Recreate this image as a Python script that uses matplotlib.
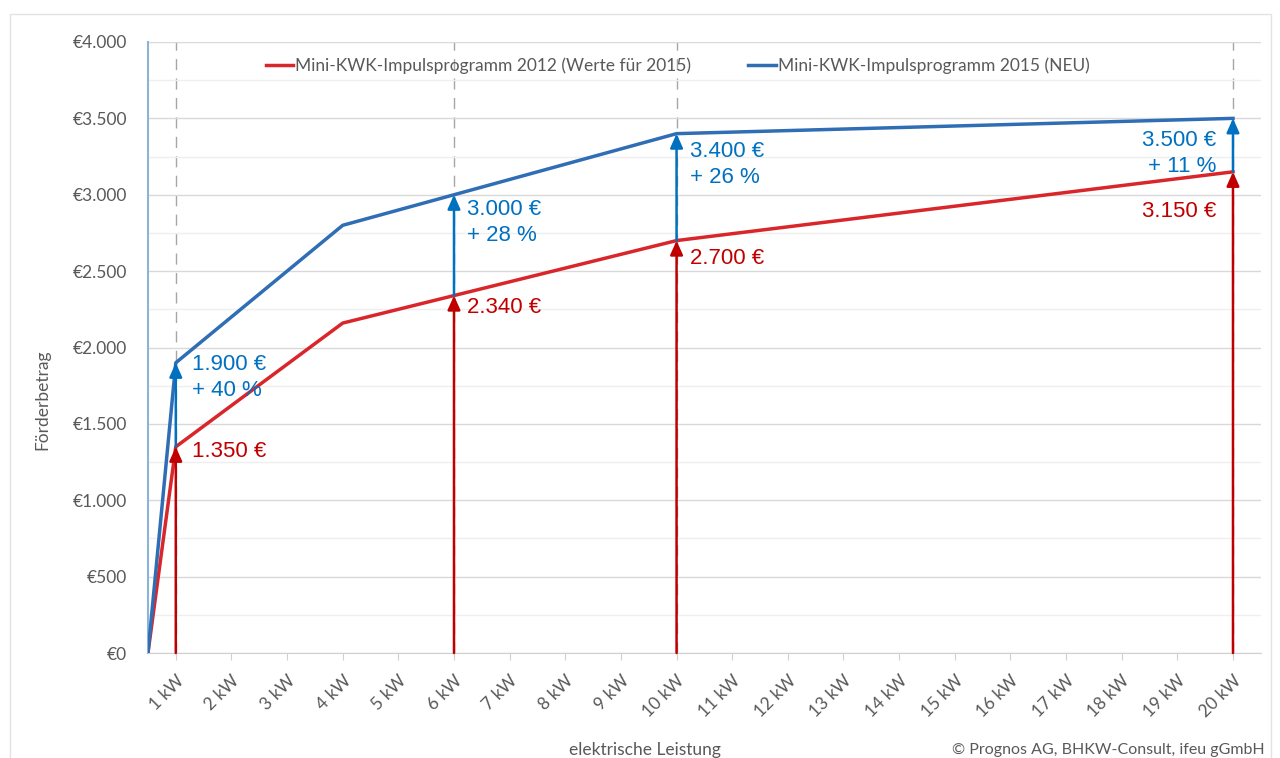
import matplotlib.pyplot as plt
from matplotlib.patches import Rectangle

plt.rcParams['font.family'] = ['Lato', 'DejaVu Sans']

# data
kw_points = [0.5, 1, 4, 6, 10, 20]
old_values = [0, 1350, 2160, 2340, 2700, 3150]
new_values = [0, 1900, 2800, 3000, 3400, 3500]

marked_kw = [1, 6, 10, 20]
marked_old = [1350, 2340, 2700, 3150]
marked_new = [1900, 3000, 3400, 3500]
marked_pct = ["+ 40 %", "+ 28 %", "+ 26 %", "+ 11 %"]

tick_kw = list(range(1, 21))
tick_labels = [f"{k} kW" for k in tick_kw]
y_ticks = list(range(0, 4001, 500))

# label placement (pixels from the arrow tip: dx, blue baseline dy, red baseline dy)
label_dx = [16, 13, 13, -17]
blue_dy = [-7, -20, -23, -28]
red_dy = [-10, -17, -23, -45]

RED_LINE = '#D9262B'
BLUE_LINE = '#2F6EB5'
RED_TXT = '#C00000'
BLUE_TXT = '#0070C0'
GRAY = '#595959'
FS = 12.5


def euro(v):
    return f"{v:,}".replace(",", ".") + " €"


fig = plt.figure(figsize=(12.8, 7.58), dpi=100)
ax = fig.add_axes([0.1156, 0.1385, 0.8694, 0.8061])

# outer frame
fig.patches.append(Rectangle((0.008, -0.01), 0.985, 0.992, transform=fig.transFigure,
                             fill=False, edgecolor='#E3E3E3', linewidth=1.0))

ax.set_xlim(0.5, 20.5)
ax.set_ylim(0, 4000)

# grid
ax.set_yticks(y_ticks)
ax.set_yticks(range(250, 4000, 500), minor=True)
ax.grid(axis='y', which='major', color='#D9D9D9', linewidth=1.0, zorder=0)
ax.grid(axis='y', which='minor', color='#EFEFEF', linewidth=1.0, zorder=0)
ax.tick_params(axis='y', which='both', length=0, labelsize=FS, labelcolor=GRAY, pad=15)
ax.set_yticklabels([f"€{v:,}".replace(",", ".") for v in y_ticks])

ax.set_xticks(tick_kw)
ax.set_xticklabels(tick_labels, rotation=45, ha='right', rotation_mode='anchor')
ax.tick_params(axis='x', length=5, color='#D0D0D0', labelsize=FS, labelcolor=GRAY, pad=9)

for s in ['top', 'right']:
    ax.spines[s].set_visible(False)
ax.spines['bottom'].set_color('#D0D0D0')
ax.spines['left'].set_color('#8DB3DA')
ax.spines['left'].set_linewidth(1.5)

# dashed guide lines
for k in marked_kw:
    ax.axvline(k, color='#A6A6A6', linestyle=(0, (8, 6)), linewidth=1.0, zorder=1)

# lines
ax.plot(kw_points, old_values, color=RED_LINE, linewidth=2.5, zorder=3,
        label='Mini-KWK-Impulsprogramm 2012 (Werte für 2015)')
ax.plot(kw_points, new_values, color=BLUE_LINE, linewidth=2.5, zorder=3,
        label='Mini-KWK-Impulsprogramm 2015 (NEU)')

# arrows and labels
arrow = '-|>,head_width=0.38,head_length=0.85'
for i, (k, o, n, p) in enumerate(zip(marked_kw, marked_old, marked_new, marked_pct)):
    ax.annotate('', xy=(k, o), xytext=(k, 0), zorder=4,
                arrowprops=dict(arrowstyle=arrow, color=RED_TXT, lw=1.8, shrinkA=0, shrinkB=0))
    ax.annotate('', xy=(k, n), xytext=(k, o), zorder=4,
                arrowprops=dict(arrowstyle=arrow, color=BLUE_TXT, lw=1.8, shrinkA=0, shrinkB=0))
    ha = 'right' if label_dx[i] < 0 else 'left'
    txt = dict(textcoords='offset pixels', ha=ha, va='baseline', fontsize=16,
               family=['Liberation Sans'], zorder=5)
    ax.annotate(euro(n), (k, n), xytext=(label_dx[i], blue_dy[i]), color=BLUE_TXT, **txt)
    ax.annotate(p, (k, n), xytext=(label_dx[i], blue_dy[i] - 26), color=BLUE_TXT, **txt)
    ax.annotate(euro(o), (k, o), xytext=(label_dx[i], red_dy[i]), color=RED_TXT, **txt)

ax.legend(loc='upper center', bbox_to_anchor=(0.476, 1.0), ncol=2, frameon=False,
          fontsize=FS, labelcolor=GRAY, handlelength=1.6, handletextpad=0.1,
          columnspacing=3.3)

ax.set_ylabel('Förderbetrag', fontsize=FS, color=GRAY)
ax.yaxis.set_label_coords(-0.088, 0.414)
fig.text(0.504, 0.0, 'elektrische Leistung', fontsize=FS, color=GRAY, ha='center', va='bottom')
fig.text(0.988, 0.001, '© Prognos AG, BHKW-Consult, ifeu gGmbH', fontsize=11.5,
         color=GRAY, ha='right', va='bottom')

fig.savefig('out.png', dpi=100)
